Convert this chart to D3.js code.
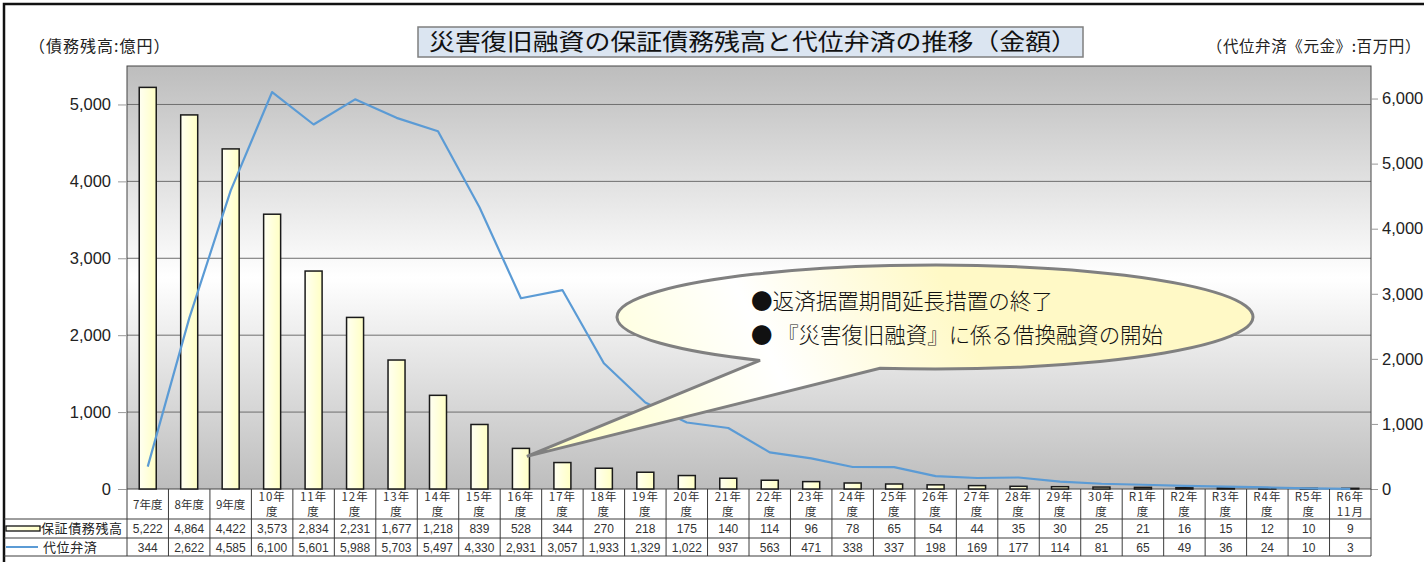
<!DOCTYPE html>
<html>
<head>
<meta charset="utf-8">
<script src="https://cdn.jsdelivr.net/npm/d3@7"></script>
<style>
  body { margin: 0; background: #fff; }
  svg { display: block; }
  .jp { font-family: "Noto Sans CJK JP", "Noto Sans", sans-serif; }
  .num { font-family: "Liberation Sans", Arial, sans-serif; }
</style>
</head>
<body>
<div id="chart"></div>
<script>
// data
const categories = ["7年度", "8年度", "9年度", "10年度", "11年度", "12年度", "13年度", "14年度", "15年度",
    "16年度", "17年度", "18年度", "19年度", "20年度", "21年度", "22年度", "23年度", "24年度", "25年度",
    "26年度", "27年度", "28年度", "29年度", "30年度", "R1年度", "R2年度", "R3年度", "R4年度", "R5年度", "R6年11月"];
const zandaka = [5222, 4864, 4422, 3573, 2834, 2231, 1677, 1218, 839, 528, 344, 270, 218, 175, 140,
    114, 96, 78, 65, 54, 44, 35, 30, 25, 21, 16, 15, 12, 10, 9];
const daii = [344, 2622, 4585, 6100, 5601, 5988, 5703, 5497, 4330, 2931, 3057, 1933, 1329, 1022, 937,
    563, 471, 338, 337, 198, 169, 177, 114, 81, 65, 49, 36, 24, 10, 3];
const leftTicks = [0, 1000, 2000, 3000, 4000, 5000];
const rightTicks = [0, 1000, 2000, 3000, 4000, 5000, 6000];
const seriesNames = ["保証債務残高", "代位弁済"];
const title = "災害復旧融資の保証債務残高と代位弁済の推移（金額）";
const leftUnit = "（債務残高:億円）";
const rightUnit = "（代位弁済《元金》:百万円）";
const note = ["●返済据置期間延長措置の終了", "● 『災害復旧融資』に係る借換融資の開始"];
const noteTarget = "16年度";

const W = 1424, H = 562;
const plot = { left: 127, right: 1371, top: 66, bottom: 489 };
const rows = [489, 519, 538, 556];

const svg = d3.select("#chart").append("svg")
    .attr("width", W).attr("height", H);

const defs = svg.append("defs");

// plot background gradient: gray - white - gray
const bg = defs.append("linearGradient").attr("id", "bg")
    .attr("x1", 0).attr("y1", 0).attr("x2", 0).attr("y2", 1);
bg.append("stop").attr("offset", "0%").attr("stop-color", "#bdbdbd");
bg.append("stop").attr("offset", "50%").attr("stop-color", "#ffffff");
bg.append("stop").attr("offset", "100%").attr("stop-color", "#bdbdbd");

const barGrad = defs.append("linearGradient").attr("id", "barfill")
    .attr("x1", 0).attr("y1", 0).attr("x2", 1).attr("y2", 0);
barGrad.append("stop").attr("offset", "0%").attr("stop-color", "#fffff2");
barGrad.append("stop").attr("offset", "100%").attr("stop-color", "#ffffc4");

const noteGrad = defs.append("linearGradient").attr("id", "notefill")
    .attr("gradientUnits", "userSpaceOnUse")
    .attr("x1", 935).attr("y1", 262).attr("x2", 560).attr("y2", 450);
noteGrad.append("stop").attr("offset", "0%").attr("stop-color", "#fff9c6");
noteGrad.append("stop").attr("offset", "45%").attr("stop-color", "#ffffff");
noteGrad.append("stop").attr("offset", "100%").attr("stop-color", "#ffffc8");

// scales
const xCol = d3.scaleBand().domain(categories).range([plot.left, plot.right]);
const xBar = d3.scaleBand().domain(categories).range([plot.left, plot.right])
    .paddingInner(0.59).paddingOuter(0.295);
const yL = d3.scaleLinear().domain([0, 5500]).range([plot.bottom, plot.top]);
const yR = d3.scaleLinear().domain([0, 6500]).range([plot.bottom, plot.top]);

// outer frame (only top and left visible)
svg.append("path")
    .attr("d", `M4,${H + 5} L4,4 L${W + 5},4`)
    .attr("fill", "none").attr("stroke", "#111").attr("stroke-width", 2.5);

// plot area
svg.append("rect")
    .attr("x", plot.left).attr("y", plot.top)
    .attr("width", plot.right - plot.left).attr("height", plot.bottom - plot.top)
    .attr("fill", "url(#bg)");

svg.append("g").selectAll("line")
    .data(leftTicks.filter(d => d > 0))
    .join("line")
    .attr("x1", plot.left).attr("x2", plot.right)
    .attr("y1", d => yL(d)).attr("y2", d => yL(d))
    .attr("stroke", "#6e6e6e").attr("stroke-width", 1);

svg.append("rect")
    .attr("x", plot.left).attr("y", plot.top)
    .attr("width", plot.right - plot.left).attr("height", plot.bottom - plot.top)
    .attr("fill", "none").attr("stroke", "#444").attr("stroke-width", 1);

// axes
const axL = svg.append("g")
    .attr("transform", `translate(${plot.left - 1},0)`)
    .call(d3.axisLeft(yL).tickValues(leftTicks).tickFormat(d3.format(",")).tickSize(8).tickPadding(7));
const axR = svg.append("g")
    .attr("transform", `translate(${plot.right},0)`)
    .call(d3.axisRight(yR).tickValues(rightTicks).tickFormat(d3.format(",")).tickSize(7).tickPadding(4));
[axL, axR].forEach(ax => {
    ax.select(".domain").remove();
    ax.selectAll(".tick line").attr("stroke", "#999");
    ax.selectAll(".tick text")
        .attr("class", "num")
        .style("font-size", "16.5px")
        .attr("fill", "#222");
});

// bars
svg.append("g").selectAll("rect")
    .data(categories)
    .join("rect")
    .attr("x", d => xBar(d))
    .attr("y", (d, i) => yL(zandaka[i]))
    .attr("width", xBar.bandwidth())
    .attr("height", (d, i) => plot.bottom - yL(zandaka[i]))
    .attr("fill", "url(#barfill)")
    .attr("stroke", "#1a1a1a").attr("stroke-width", 1.5);

// line
const line = d3.line()
    .x((d, i) => xCol(categories[i]) + xCol.bandwidth() / 2)
    .y(d => yR(d));
svg.append("path")
    .datum(daii)
    .attr("d", line)
    .attr("fill", "none")
    .attr("stroke", "#5b9bd5").attr("stroke-width", 2.2)
    .attr("stroke-linejoin", "round");

// callout balloon
const ti = categories.indexOf(noteTarget);
const tip = [xBar(noteTarget) + xBar.bandwidth() * 0.85, yL(zandaka[ti]) + 8];
const ec = { cx: 935, cy: 317, rx: 318, ry: 52 };
const onEllipse = x => [x, ec.cy + ec.ry * Math.sqrt(1 - ((x - ec.cx) / ec.rx) ** 2)];
const pA = onEllipse(760), pB = onEllipse(880);
svg.append("path")
    .attr("d", `M${pA[0]},${pA[1]} A${ec.rx},${ec.ry} 0 1 1 ${pB[0]},${pB[1]} L${tip[0]},${tip[1]} Z`)
    .attr("fill", "url(#notefill)")
    .attr("stroke", "#808080").attr("stroke-width", 3)
    .attr("stroke-linejoin", "miter");

svg.append("g").selectAll("text")
    .data(note)
    .join("text")
    .attr("class", "jp")
    .attr("x", 751)
    .attr("y", (d, i) => 309 + i * 34)
    .attr("textLength", (d, i) => i === 0 ? 302 : 412)
    .attr("lengthAdjust", "spacingAndGlyphs")
    .style("font-size", "22px")
    .style("font-weight", 300)
    .attr("fill", "#111")
    .text(d => d);

// title box
svg.append("rect")
    .attr("x", 418).attr("y", 27).attr("width", 665).attr("height", 30)
    .attr("fill", "#dbe5f1").attr("stroke", "#7f7f7f").attr("stroke-width", 1.5);
svg.append("text")
    .attr("class", "jp")
    .attr("x", 753).attr("y", 50)
    .attr("text-anchor", "middle")
    .attr("textLength", 648).attr("lengthAdjust", "spacingAndGlyphs")
    .style("font-size", "23px")
    .attr("fill", "#111")
    .text(title);

// unit labels
svg.append("text")
    .attr("class", "jp")
    .attr("x", 29).attr("y", 52)
    .style("font-size", "16px").style("letter-spacing", "1px")
    .attr("fill", "#222")
    .text(leftUnit);
svg.append("text")
    .attr("class", "jp")
    .attr("x", 1421).attr("y", 52)
    .attr("text-anchor", "end")
    .style("font-size", "15.5px").style("letter-spacing", "0.6px")
    .attr("fill", "#222")
    .text(rightUnit);

// data table
const table = svg.append("g");
const gridColor = "#3c3c3c";

rows.slice(1).forEach(y => {
    table.append("line")
        .attr("x1", 4).attr("x2", plot.right)
        .attr("y1", y).attr("y2", y)
        .attr("stroke", gridColor).attr("stroke-width", 1);
});

table.selectAll(".vline")
    .data([plot.left].concat(categories.map(c => xCol(c) + xCol.bandwidth())))
    .join("line")
    .attr("class", "vline")
    .attr("x1", d => d).attr("x2", d => d)
    .attr("y1", rows[0]).attr("y2", rows[3])
    .attr("stroke", gridColor).attr("stroke-width", 1);

// category labels, wrapped after 年 when long
function labelLines(c) {
    if (c.length <= 3) return [c];
    const k = c.indexOf("年") + 1;
    return [c.slice(0, k), c.slice(k)];
}
const catG = table.selectAll(".cat")
    .data(categories)
    .join("text")
    .attr("class", "cat jp")
    .attr("text-anchor", "middle")
    .style("font-size", "11.5px")
    .attr("fill", "#333");
catG.each(function(c) {
    const lines = labelLines(c);
    const cx = xCol(c) + xCol.bandwidth() / 2;
    d3.select(this).selectAll("tspan")
        .data(lines)
        .join("tspan")
        .attr("x", cx)
        .attr("y", (d, i) => lines.length === 1 ? 509 : 501 + i * 15)
        .style("letter-spacing", lines.length === 1 ? "0px" : "1px")
        .text(d => d);
});

const fmt = d3.format(",");
[zandaka, daii].forEach((vals, r) => {
    table.append("g").selectAll("text")
        .data(vals)
        .join("text")
        .attr("class", "num")
        .attr("x", (d, i) => xCol(categories[i]) + xCol.bandwidth() / 2)
        .attr("y", rows[r + 1] + 14)
        .attr("text-anchor", "middle")
        .style("font-size", "12px")
        .attr("fill", "#333")
        .text(d => fmt(d));
});

// legend keys inside the table
table.append("rect")
    .attr("x", 6).attr("y", 526).attr("width", 34).attr("height", 5)
    .attr("fill", "url(#barfill)").attr("stroke", "#111").attr("stroke-width", 1.3);
table.append("line")
    .attr("x1", 6).attr("x2", 38).attr("y1", 547).attr("y2", 547)
    .attr("stroke", "#5b9bd5").attr("stroke-width", 2);
seriesNames.forEach((s, i) => {
    table.append("text")
        .attr("class", "jp")
        .attr("x", i === 0 ? 41 : 43)
        .attr("y", rows[i + 1] + 14)
        .style("font-size", "13px").style("letter-spacing", "0.6px")
        .attr("fill", "#222")
        .text(s);
});
</script>
</body>
</html>
